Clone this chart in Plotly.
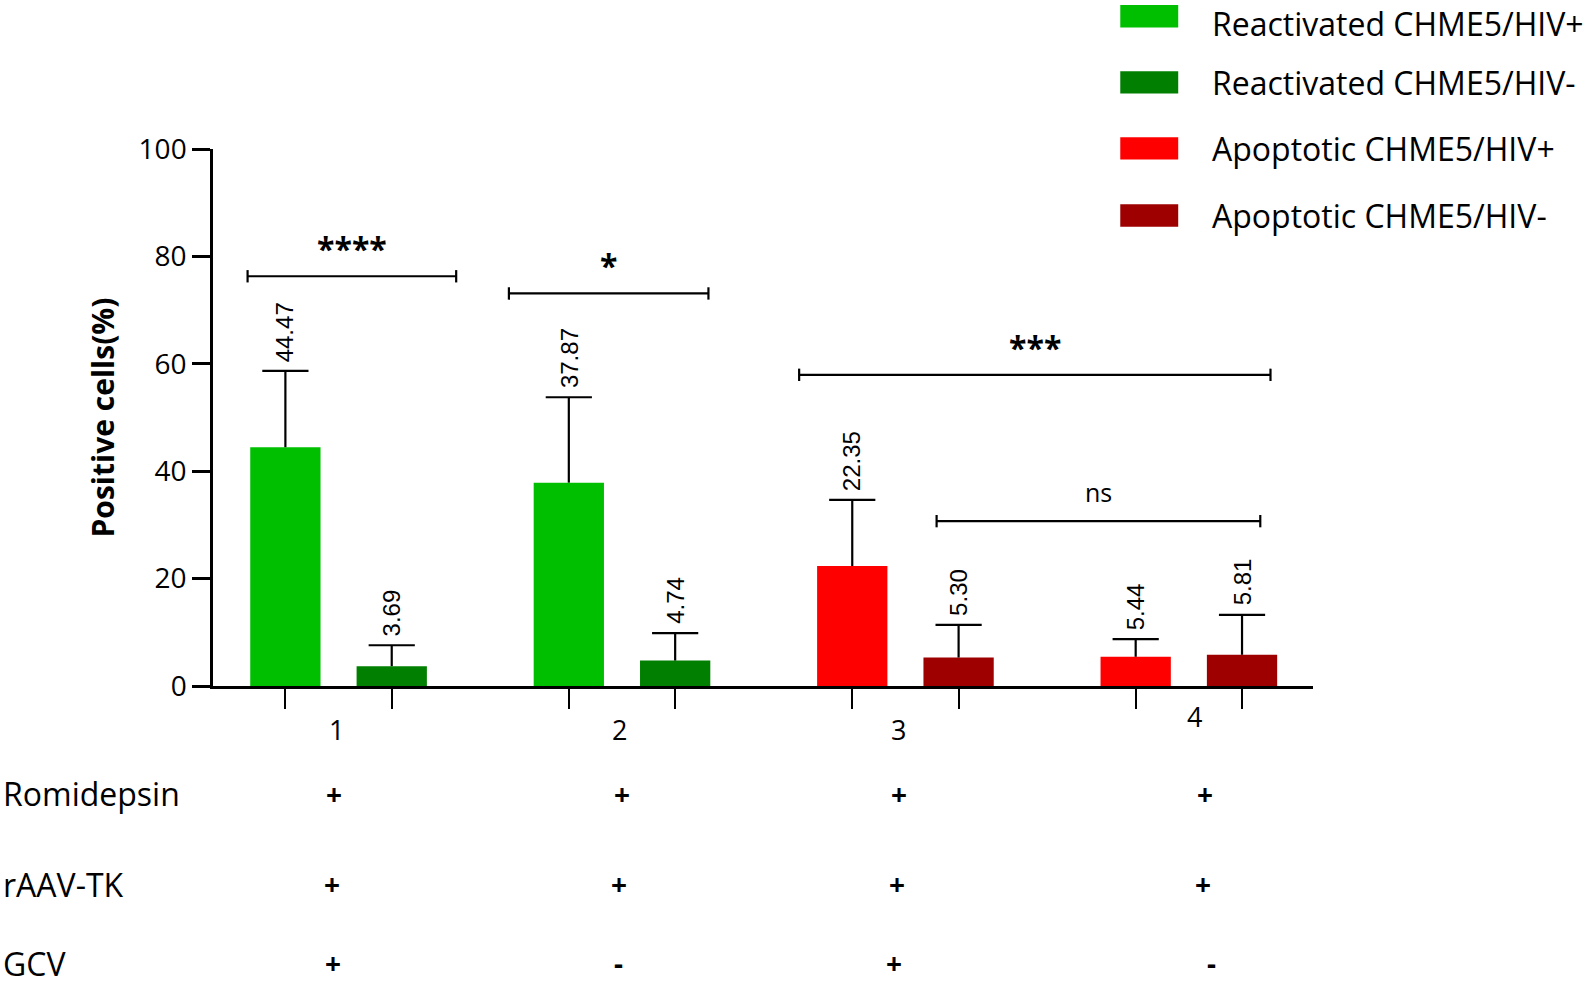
import plotly.graph_objects as go

# ---------------- data ----------------
groups = [1, 2, 3, 4]
series_names = ["Reactivated CHME5/HIV+", "Reactivated CHME5/HIV-",
                "Apoptotic CHME5/HIV+", "Apoptotic CHME5/HIV-"]
series_colors = ["#00BF00", "#007F00", "#FF0000", "#9E0000"]
# which groups each series appears in
series_groups = [[1, 2], [1, 2], [3, 4], [3, 4]]
series_side = [-1, 1, -1, 1]
series_values = [[44.47, 37.87], [3.69, 4.74], [22.35, 5.44], [5.30, 5.81]]
series_sd = [[14.2, 15.9], [3.9, 5.1], [12.3, 3.3], [6.1, 7.45]]

row_labels = ["Romidepsin", "rAAV-TK", "GCV"]
row_signs = [["+", "+", "+", "+"], ["+", "+", "+", "+"], ["+", "-", "+", "-"]]

# significance brackets
sig_x0 = [0.679, 1.601, 2.625, 3.110]
sig_x1 = [1.415, 2.305, 4.288, 4.252]
sig_y = [76.3, 73.1, 57.95, 30.7]
sig_text = ["****", "*", "***", "ns"]
sig_bold = [True, True, True, False]

y_ticks = [0, 20, 40, 60, 80, 100]

# ---------------- layout constants ----------------
W, H = 1594, 987
L, R, T, B = 213, 1313, 149, 686
OFF = 0.1876
BW = 0.248
XR = [0.557, 4.438]


def pxx(px):
    return (px - L) / (R - L)


def pxy(py):
    return (B - py) / (B - T)


S = 1594 / 1568  # reference shrink factor

fig = go.Figure()
for name, col, gs, side, vals, sds in zip(series_names, series_colors, series_groups,
                                          series_side, series_values, series_sd):
    xs = [g + side * OFF for g in gs]
    fig.add_trace(go.Bar(
        x=xs, y=vals, width=BW, name=name, marker=dict(color=col, line=dict(width=0)),
        error_y=dict(type="data", array=sds, arrayminus=[0] * len(sds), symmetric=False,
                     color="black", thickness=2.2, width=0),
        showlegend=False, hoverinfo="skip",
    ))
    # error-bar caps (only on top)
    fig.add_trace(go.Scatter(
        x=xs, y=[v + s for v, s in zip(vals, sds)], mode="markers",
        marker=dict(symbol="line-ew-open", size=33, color="black",
                    line=dict(color="black", width=2.2)),
        showlegend=False, hoverinfo="skip",
    ))
    for x, v, s in zip(xs, vals, sds):
        fig.add_annotation(x=x, y=v + s, text=f"{v:.2f}", textangle=-90, showarrow=False,
                           xanchor="center", yanchor="bottom", yshift=7,
                           font=dict(family="Liberation Sans", size=24, color="black"))

# significance brackets
cap = 1.15
for x0, x1, y, t, b in zip(sig_x0, sig_x1, sig_y, sig_text, sig_bold):
    ln = dict(color="black", width=2.2)
    fig.add_shape(type="line", x0=x0, x1=x1, y0=y, y1=y, xref="x", yref="y", line=ln)
    fig.add_shape(type="line", x0=x0, x1=x0, y0=y - cap, y1=y + cap, xref="x", yref="y", line=ln)
    fig.add_shape(type="line", x0=x1, x1=x1, y0=y - cap, y1=y + cap, xref="x", yref="y", line=ln)
    fig.add_annotation(x=(x0 + x1) / 2, y=y, text=(f"<b>{t}</b>" if b else t), showarrow=False,
                       xanchor="center", yanchor="bottom", yshift=(4 if b else 10),
                       font=dict(family="Open Sans", size=(32 if b else 25), color="black"))

# group labels under axis
group_label_px = [331, 609, 884, 1175]
group_label_py = [718, 718, 718, 705]
for g, px, py in zip(groups, group_label_px, group_label_py):
    fig.add_annotation(x=pxx(px * S), y=pxy(py * S), xref="paper", yref="paper",
                       text=str(g), showarrow=False, xanchor="center", yanchor="middle",
                       font=dict(family="Open Sans", size=27, color="black"))

# treatment table
row_py = [781, 870, 957]
col_px = [[329, 612, 884, 1185], [327, 609, 882, 1183], [328, 608, 879, 1192]]
for i, (lab, py, signs, cols) in enumerate(zip(row_labels, row_py, row_signs, col_px)):
    last = i == len(row_labels) - 1
    ya = pxy(H) if last else pxy(py * S)
    anch = "bottom" if last else "middle"
    fig.add_annotation(x=pxx(1), y=ya, xref="paper", yref="paper", text=lab,
                       showarrow=False, xanchor="left", yanchor=anch,
                       font=dict(family="Open Sans", size=32, color="black"))
    for sg, cx in zip(signs, cols):
        fig.add_annotation(x=pxx(cx * S), y=ya, xref="paper", yref="paper",
                           text=f"<b>{sg}</b>", showarrow=False, xanchor="center",
                           yanchor=anch, yshift=(3 if last else 0),
                           font=dict(family="Open Sans", size=28, color="black"))

# legend (manual)
leg_py = [16, 81, 146, 212]
for i, (name, col, py) in enumerate(zip(series_names, series_colors, leg_py)):
    fig.add_shape(type="rect", xref="paper", yref="paper",
                  x0=pxx(1102 * S), x1=pxx(1159 * S),
                  y0=pxy((py - 11) * S), y1=pxy((py + 11) * S),
                  fillcolor=col, line=dict(width=0))
    first = i == 0
    fig.add_annotation(x=pxx(1190 * S), y=(pxy(0) if first else pxy(py * S)),
                       xref="paper", yref="paper",
                       text=name, showarrow=False, xanchor="left",
                       yanchor=("top" if first else "middle"),
                       font=dict(family="Open Sans", size=32, color="black"))

bar_centers = [g + s * OFF for gs, s in zip(series_groups, series_side) for g in gs]

fig.update_layout(
    width=W, height=H, margin=dict(l=L, r=W - R, t=T, b=H - B, autoexpand=False),
    plot_bgcolor="white", paper_bgcolor="white", barmode="overlay", showlegend=False,
    xaxis=dict(range=XR, showgrid=False, zeroline=False, showline=True, linecolor="black",
               linewidth=3, ticks="outside", ticklen=20, tickwidth=2, tickcolor="black",
               tickvals=sorted(bar_centers), ticktext=[""] * 8),
    yaxis=dict(range=[0, 100], showgrid=False, zeroline=False, showline=True,
               linecolor="black", linewidth=2.5, ticks="outside", ticklen=18, tickwidth=2.5,
               tickcolor="black", tickvals=y_ticks, ticktext=[str(v) for v in y_ticks],
               tickfont=dict(family="Open Sans", size=28, color="black"),
               title=dict(text="<b>Positive cells(%)</b>", standoff=16,
                          font=dict(family="Open Sans", size=30, color="black"))),
)

fig.write_html("out.html", config={"displayModeBar": False},
               post_script="document.body.style.margin='0';")
